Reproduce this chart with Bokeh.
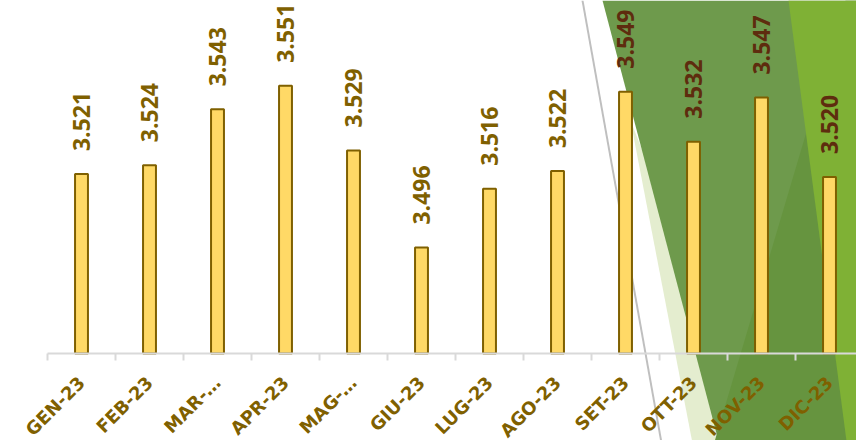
import math
from bokeh.plotting import figure
from bokeh.models import Range1d, FixedTicker, PolyAnnotation, ColumnDataSource
from bokeh.core.properties import value
from bokeh.embed import file_html
from bokeh.resources import INLINE

# ---- data ----
months = ["GEN-23", "FEB-23", "MAR-…", "APR-23", "MAG-…", "GIU-23",
          "LUG-23", "AGO-23", "SET-23", "OTT-23", "NOV-23", "DIC-23"]
values = [3521, 3524, 3543, 3551, 3529, 3496, 3516, 3522, 3549, 3532, 3547, 3520]
y_min, y_max = 3460, 3580

# ---- layout ----
W, H = 856, 440
PLOT_LEFT = 47           # pixel column where the first category starts
CAT_W = 68               # pixel width of one category
BASELINE = 353           # pixel row of the category axis
n = len(months)
# the frame covers the whole canvas; the axis is pinned at y_min
y_start = y_min - (H - BASELINE) * (y_max - y_min) / BASELINE
x_start = -PLOT_LEFT / CAT_W
x_end = (W - PLOT_LEFT) / CAT_W

centers = [i + 0.5 for i in range(n)]
labels = [f"{v:,}".replace(",", ".") for v in values]
label_colors = ["#7F6000" if i < 8 else "#5E2C0E" for i in range(n)]

src = ColumnDataSource(dict(x=centers, top=values, label=labels, color=label_colors))

p = figure(width=W, height=H, x_range=Range1d(x_start, x_end), y_range=Range1d(y_start, y_max),
           output_backend="svg", toolbar_location=None,
           min_border_left=0, min_border_right=0, min_border_top=0, min_border_bottom=0)
p.background_fill_color = None
p.border_fill_color = "white"
p.outline_line_color = None
p.xgrid.visible = False
p.ygrid.visible = False
p.yaxis.visible = False

# decorative theme shapes, given in canvas pixels (frame-relative screen units, y from bottom)
shapes = [
    ([630, 693, 760], [120, 448, 448], "#E4EDCF"),
    ([602, 880, 880, 720], [0, 0, 448, 448], "#6E9A4C"),
    ([845, 880, 880, 712], [0, 0, 448, 448], "#66943F"),
    ([788, 880, 880, 847], [0, 0, 448, 448], "#7FB135"),
    ([581, 583, 663, 661], [0, 0, 448, 448], "#BFBFBF"),
]
for xs, ys, col in shapes:
    p.add_layout(PolyAnnotation(xs=list(xs), ys=[H - y for y in ys],
                                xs_units="screen", ys_units="screen",
                                fill_color=col, fill_alpha=1.0,
                                line_color=None, level="underlay"))

p.vbar(x="x", top="top", bottom=y_min, width=0.19, source=src,
       fill_color="#FFD966", line_color="#7F6000", line_width=2)

p.text(x="x", y="top", text="label", source=src, angle=math.pi / 2,
       text_align="left", text_baseline="middle", y_offset=-23,
       text_font=value("Open Sans"), text_font_style="bold",
       text_font_size="23px", text_color="color")

ax = p.xaxis[0]
ax.fixed_location = y_min
ax.bounds = (0, n)
ax.ticker = FixedTicker(ticks=centers, minor_ticks=list(range(n + 1)))
ax.major_label_overrides = {c: m for c, m in zip(centers, months)}
ax.major_label_orientation = math.pi / 4
ax.major_tick_out = 0
ax.major_tick_in = 0
ax.minor_tick_out = 7
ax.minor_tick_in = 0
ax.minor_tick_line_color = "#D9D9D9"
ax.minor_tick_line_width = 2
ax.axis_line_color = "#D9D9D9"
ax.axis_line_width = 2
ax.major_label_text_font = "DejaVu Sans"
ax.major_label_text_font_style = "bold"
ax.major_label_text_font_size = "18px"
ax.major_label_text_color = "#7F6000"
ax.major_label_standoff = 19

open("out.html", "w").write(file_html(p, INLINE))
